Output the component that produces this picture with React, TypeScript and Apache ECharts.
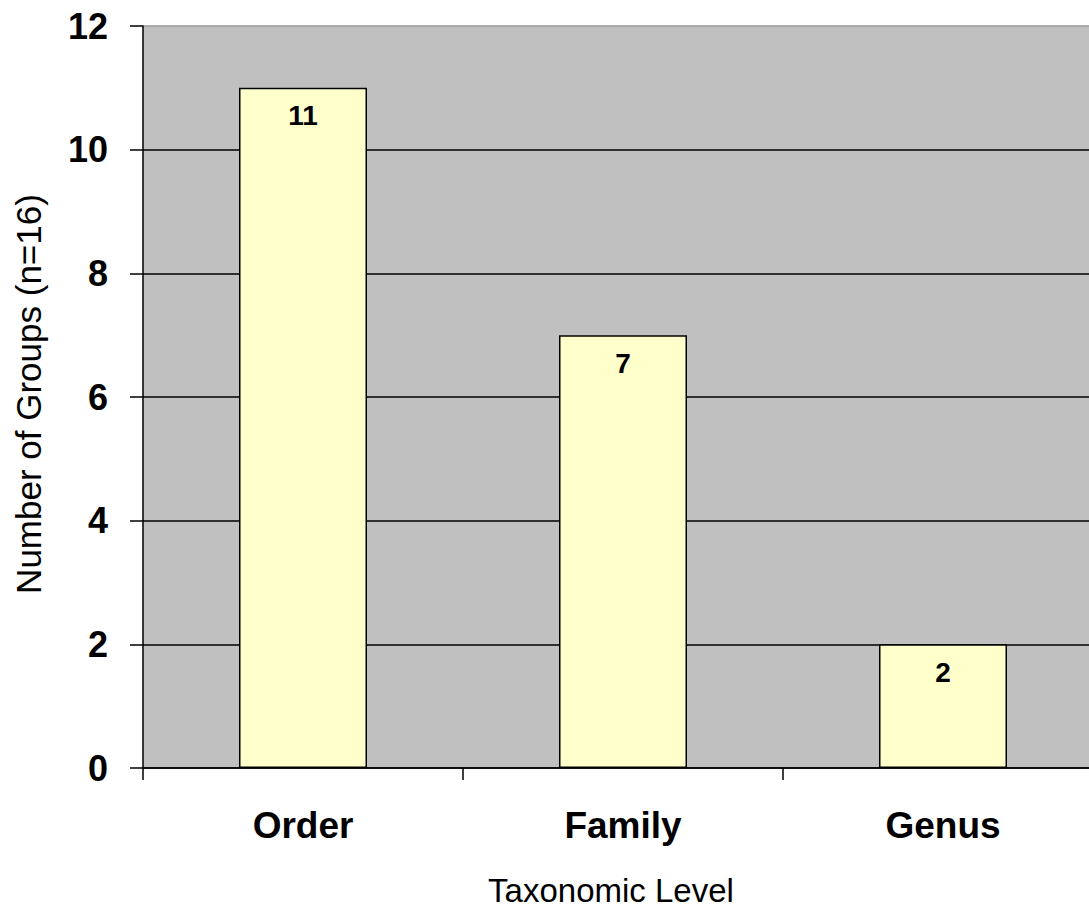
import React, { useEffect, useRef } from "react";
import * as echarts from "echarts";

const categories = ["Order", "Family", "Genus"];
const values = [11, 7, 2];
const yTicks = { min: 0, max: 12, interval: 2 };
const yTitle = "Number of Groups (n=16)";
const xTitle = "Taxonomic Level";

const FONT = "'Liberation Sans', Arial, sans-serif";

export default function App() {
  const ref = useRef<HTMLDivElement>(null);
  useEffect(() => {
    if (!ref.current) return;
    const chart = echarts.init(ref.current, undefined, { renderer: "svg" });
    chart.setOption({
      animation: false,
      backgroundColor: "#ffffff",
      grid: {
        left: 143,
        top: 26,
        bottom: 142,
        right: 7,
        show: true,
        backgroundColor: "#c0c0c0",
        borderWidth: 0,
      },
      xAxis: {
        type: "category",
        data: categories,
        axisLine: { show: true, lineStyle: { color: "#000", width: 1.5 } },
        axisTick: { show: true, length: 12, lineStyle: { color: "#000", width: 1.5 } },
        axisLabel: {
          margin: 39,
          fontFamily: FONT,
          fontWeight: "bold",
          fontSize: 37,
          color: "#000",
        },
        splitLine: { show: false },
      },
      yAxis: {
        type: "value",
        min: yTicks.min,
        max: yTicks.max,
        interval: yTicks.interval,
        axisLine: { show: true, lineStyle: { color: "#000", width: 1.5 } },
        axisTick: { show: true, length: 13, lineStyle: { color: "#000", width: 1.5 } },
        axisLabel: {
          margin: 35,
          fontFamily: FONT,
          fontWeight: "bold",
          fontSize: 36,
          color: "#000",
        },
        splitLine: {
          show: true,
          lineStyle: {
            color: ["#000", "#000", "#000", "#000", "#000", "#000", "#999"],
            width: 1.5,
          },
        },
      },
      series: [
        {
          type: "bar",
          data: values,
          barCategoryGap: "60%",
          itemStyle: { color: "#ffffcc", borderColor: "#000", borderWidth: 1.5 },
          label: {
            show: true,
            position: "insideTop",
            distance: 14,
            fontFamily: FONT,
            fontWeight: "bold",
            fontSize: 28,
            color: "#000",
          },
        },
      ],
      graphic: [
        {
          type: "text",
          x: 28,
          y: 394,
          rotation: Math.PI / 2,
          style: {
            text: yTitle,
            fontFamily: FONT,
            fontSize: 35,
            fill: "#000",
            textAlign: "center",
            textVerticalAlign: "middle",
          },
        },
        {
          type: "text",
          x: 611,
          y: 890,
          style: {
            text: xTitle,
            fontFamily: FONT,
            fontSize: 33,
            fill: "#000",
            textAlign: "center",
            textVerticalAlign: "middle",
          },
        },
      ],
    });
    return () => chart.dispose();
  }, []);
  return (
    <div
      style={{
        position: "fixed",
        left: 0,
        top: 0,
        width: 1089,
        height: 910,
        overflow: "hidden",
        background: "#fff",
      }}
    >
      <div ref={ref} style={{ width: 1110, height: 910 }} />
    </div>
  );
}
